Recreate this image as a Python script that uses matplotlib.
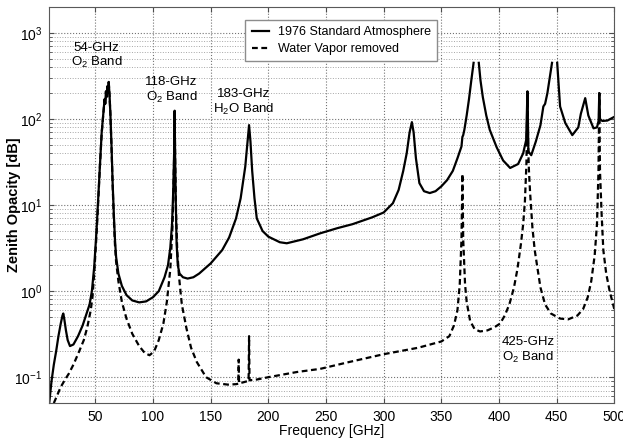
import numpy as np
import matplotlib
matplotlib.use("Agg")
from matplotlib import pyplot as plt

plt.rcParams['font.family'] = ['Liberation Sans', 'DejaVu Sans']
plt.rcParams['mathtext.fontset'] = 'custom'
plt.rcParams['mathtext.rm'] = 'Liberation Sans'
plt.rcParams['mathtext.it'] = 'Liberation Sans'
plt.rcParams['mathtext.bf'] = 'Liberation Sans:bold'

nan = np.nan

# zenith opacity, 1976 standard atmosphere
freq_std = [10, 12, 14, 16, 18, 20, 21.5, 22.2, 23, 24.5,
            26, 28, 31, 35, 39, 43, 45, 47, 49, 51,
            52.5, 54, 55.5, 57, 58, 58.6, 59.2, 59.8, 60.4, 61,
            61.6, 62.3, 63, 64, 65, 66, 67, 68, 70, 73,
            77, 82, 88, 94, 100, 105, 110, 113, 115, 116.5,
            117.5, 118.3, 118.75, 119.2, 119.8, 120.5, 121.5, 123, 126, 130,
            135, 140, 150, 160, 166, 172, 176, 180, 182, 183.3,
            184.5, 186, 188, 190, 195, 200, 210, 216, 230, 245,
            260, 273, 290, 300, 308, 313, 317, 320, 322.5, 324.5,
            326, 328, 331, 335, 340, 345, 350, 355, 360, 364,
            366, 367.5, 368.3, 369, 370, 372, 374, 376, 378, 379,
            382, 382.5, 384, 386, 389, 392, 398, 403.6, 409.7, 416.6,
            421, 423.6, 424.7, 425.5, 428, 432, 436, 438.5, 440, 442,
            444, 446, 447, 450, 450.5, 453, 457.5, 463.6, 468.8, 471,
            474.8, 477.5, 482, 485, 486.4, 487, 487.6, 489.6, 494, 500]
opacity_std = [0.05, 0.09, 0.14, 0.2, 0.3, 0.42, 0.52, 0.55, 0.48, 0.35,
               0.27, 0.23, 0.24, 0.3, 0.4, 0.58, 0.7, 1.0, 1.9, 5,
               12, 30, 70, 120, 170, 150, 210, 180, 240, 200,
               270, 190, 120, 50, 18, 8, 4, 2.5, 1.6, 1.15,
               0.9, 0.78, 0.74, 0.76, 0.85, 1.0, 1.45, 2.0, 3.2, 6,
               14, 40, 125, 35, 10, 3.5, 2.0, 1.6, 1.45, 1.4,
               1.45, 1.6, 2.1, 3.0, 4.2, 7, 12, 28, 55, 85,
               55, 25, 12, 7, 5, 4.3, 3.7, 3.6, 4.0, 4.7,
               5.4, 6, 7.2, 8.2, 10.5, 15, 25, 40, 70, 92,
               70, 35, 18, 14.5, 13.8, 14.5, 16.5, 19.5, 25, 35,
               42, 48, 62, 65, 75, 110, 170, 280, 450, nan,
               nan, 450, 280, 180, 110, 75, 47, 33, 27, 30,
               40, 57, 210, 42, 38, 55, 85, 140, 150, 200,
               300, 450, nan, nan, 450, 140, 90, 65, 80, 115,
               175, 110, 78, 80, 95, 200, 100, 95, 96, 106]

# same atmosphere with the water vapour taken out
freq_dry = [14, 17, 20, 24, 27, 31, 36, 40, 43, 46,
            47.5, 49, 51, 52.5, 54, 55.5, 57, 58, 58.6, 59.2,
            59.8, 60.4, 61, 61.6, 62.3, 63, 64, 65, 66, 67,
            68, 70, 73, 77, 82, 88, 93, 97, 101, 105,
            109, 112, 115, 117, 118.3, 118.75, 119.2, 120, 121, 122.5,
            125, 129, 133, 138, 146, 155, 165, 172, 174, 174.3,
            174.6, 178, 182, 182.9, 183.3, 183.7, 190, 200, 225, 245,
            270, 300, 330, 350, 357, 361, 364, 366, 367.5, 368.3,
            369, 370.6, 372, 375, 379, 383.6, 390, 396, 401, 405,
            409, 413, 416, 419, 421, 422.5, 423.8, 424.7, 425.3, 426,
            427, 429, 431, 433, 436, 440, 445, 453, 460, 468,
            473, 477, 480, 483, 485, 486.3, 487, 487.6, 489, 490.5,
            493, 496, 500]
opacity_dry = [0.05, 0.062, 0.077, 0.095, 0.11, 0.14, 0.2, 0.27, 0.38, 0.6,
               0.85, 1.6, 4.5, 11, 29, 68, 118, 168, 148, 208,
               178, 238, 198, 268, 188, 118, 48, 17, 7, 3.5,
               2.2, 1.3, 0.75, 0.48, 0.32, 0.23, 0.19, 0.18, 0.2, 0.27,
               0.42, 0.75, 1.8, 6, 35, 125, 35, 8, 3, 1.5,
               0.7, 0.37, 0.22, 0.15, 0.1, 0.085, 0.082, 0.083, 0.084, 0.16,
               0.085, 0.087, 0.09, 0.091, 0.3, 0.092, 0.094, 0.1, 0.115, 0.125,
               0.15, 0.185, 0.22, 0.26, 0.3, 0.4, 0.6, 1.2, 4, 23,
               4, 1.2, 0.75, 0.45, 0.36, 0.34, 0.35, 0.38, 0.42, 0.52,
               0.7, 1.1, 1.8, 3.5, 6, 11, 30, 210, 50, 25,
               14, 5.5, 3, 2, 1.1, 0.7, 0.55, 0.48, 0.47, 0.52,
               0.62, 0.85, 1.3, 2.6, 6, 25, 200, 25, 8, 3,
               1.6, 1.0, 0.62]

band_labels = ["54-GHz\nO$_2$ Band", "118-GHz\nO$_2$ Band",
               "183-GHz\nH$_2$O Band", "425-GHz\nO$_2$ Band"]
band_label_pos = [(51, 540), (116, 215), (178.5, 155), (425, 0.205)]

fig = plt.figure(figsize=(6.23, 4.42), dpi=100)
ax = fig.add_axes([0.079, 0.088, 0.907, 0.896])

ax.plot(freq_std, opacity_std, color='black', lw=1.6,
        label='1976 Standard Atmosphere')
ax.plot(freq_dry, opacity_dry, color='black', lw=1.6,
        linestyle=(0, (2.6, 1.6)), label='Water Vapor removed')

ax.set_yscale('log')
ax.set_xlim(10, 500)
ax.set_ylim(0.05, 2000)
ax.set_xticks(range(50, 501, 50))

ax.grid(True, which='major', linestyle=':', color='0.45', linewidth=0.8)
ax.grid(True, which='minor', axis='y', linestyle=':', color='0.65',
        linewidth=0.7)
ax.tick_params(direction='in', which='both', top=True, right=True,
               labelsize=10, color='0.3', pad=5)
for sp in ax.spines.values():
    sp.set_color('0.35')

for txt, (fx, fy) in zip(band_labels, band_label_pos):
    ax.text(fx, fy, txt, ha='center', va='center', fontsize=9.5,
            linespacing=1.15)

ax.set_xlabel('Frequency [GHz]', fontsize=10)
ax.xaxis.set_label_coords(0.5, -0.052)
ax.set_ylabel('Zenith Opacity [dB]', fontsize=10.5, fontweight='bold')
ax.yaxis.set_label_coords(-0.05, 0.5)

leg = ax.legend(loc='upper left', bbox_to_anchor=(0.347, 0.968),
                fontsize=9, frameon=True, fancybox=False,
                handlelength=1.4, borderpad=0.5, labelspacing=0.4,
                handletextpad=0.7, borderaxespad=0)
leg.get_frame().set_edgecolor('0.55')
leg.get_frame().set_linewidth(1.0)
leg.get_frame().set_alpha(1)

fig.savefig('out.png', dpi=100)
